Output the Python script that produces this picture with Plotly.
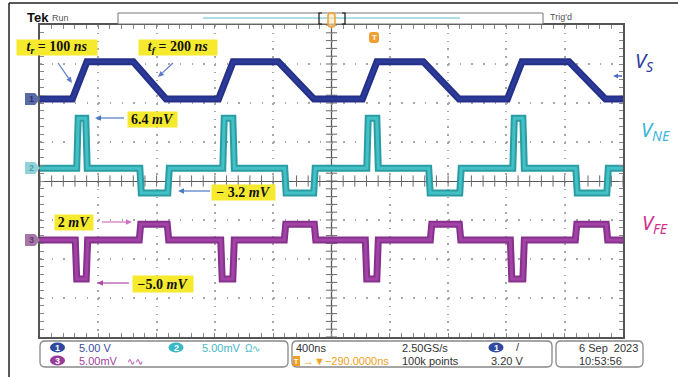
import numpy as np
import plotly.graph_objects as go

# ---------------- data (read from the scope screen) ----------------
# time in ns (400 ns/div, 10 div), channel values in V or mV
vs_t = [0, 222, 322, 640, 865, 1225, 1325, 1635, 1880, 2212, 2312, 2630, 2875,
        3207, 3307, 3630, 3880, 4000]
vs_v = [0, 0, 4.8, 4.8, 0, 0, 4.8, 4.8, 0, 0, 4.8, 4.8, 0, 0, 4.8, 4.8, 0, 0]

ne_t = [0, 252, 262, 314, 324, 685, 695, 877, 887,
        1254, 1264, 1323, 1333, 1679, 1689, 1878, 1888,
        2242, 2252, 2311, 2321, 2667, 2677, 2880, 2890,
        3244, 3254, 3313, 3323, 3676, 3686, 3889, 3899, 4000]
ne_v = [0, 0, 6.4, 6.4, 0, 0, -3.2, -3.2, 0,
        0, 6.4, 6.4, 0, 0, -3.2, -3.2, 0,
        0, 6.4, 6.4, 0, 0, -3.2, -3.2, 0,
        0, 6.4, 6.4, 0, 0, -3.2, -3.2, 0, 0]

fe_t = [0, 242, 252, 317, 327, 681, 691, 873, 883,
        1240, 1250, 1323, 1333, 1676, 1686, 1882, 1892,
        2232, 2242, 2311, 2321, 2678, 2688, 2877, 2887,
        3227, 3237, 3313, 3323, 3673, 3683, 3885, 3895, 4000]
fe_v = [0, 0, -5.0, -5.0, 0, 0, 2.0, 2.0, 0,
        0, -5.0, -5.0, 0, 0, 2.0, 2.0, 0,
        0, -5.0, -5.0, 0, 0, 2.0, 2.0, 0,
        0, -5.0, -5.0, 0, 0, 2.0, 2.0, 0, 0]

# scope settings
time_per_div = 400      # ns/div
ch_scale = [5.0, 5.0, 5.0]          # V/div, mV/div, mV/div
ch_offset = [2.10, 0.33, -1.51]     # ground position in divisions

W, H = 678, 377
def px(x): return x / W
def py(y): return 1 - y / H

fig = go.Figure()

# centre cross-hair tick marks
cx = np.arange(0, 4001, 80)
cy = np.arange(-4, 4.001, 0.2)
fig.add_trace(go.Scatter(x=cx, y=np.zeros_like(cx), mode="markers",
                         marker=dict(symbol="line-ns", size=8, line=dict(width=1, color="#6a6a6a")),
                         hoverinfo="skip", showlegend=False))
fig.add_trace(go.Scatter(x=np.full_like(cy, 2000), y=cy, mode="markers",
                         marker=dict(symbol="line-ew", size=8, line=dict(width=1, color="#6a6a6a")),
                         hoverinfo="skip", showlegend=False))

def band(t, v, scale, off, outer, inner):
    y = off + np.array(v) / scale
    fig.add_trace(go.Scatter(x=t, y=y, mode="lines", line=dict(color=outer, width=7),
                             hoverinfo="skip", showlegend=False))
    fig.add_trace(go.Scatter(x=t, y=y, mode="lines", line=dict(color=inner, width=3),
                             hoverinfo="skip", showlegend=False))

band(vs_t, vs_v, ch_scale[0], ch_offset[0], "#243089", "#2c3a98")
band(ne_t, ne_v, ch_scale[1], ch_offset[1], "#2a9ca2", "#42c2c7")
band(fe_t, fe_v, ch_scale[2], ch_offset[2], "#87308d", "#a244a6")

shapes = []
ann = []

# centre vertical line
shapes.append(dict(type="line", xref="x", yref="y", x0=2000, x1=2000, y0=-4, y1=4,
                   line=dict(color="#5a5a5a", width=1.3), layer="below"))

# outer frame
shapes.append(dict(type="line", xref="paper", yref="paper", x0=px(9), x1=px(678), y0=py(3), y1=py(3),
                   line=dict(color="#222", width=1.5)))
shapes.append(dict(type="line", xref="paper", yref="paper", x0=px(9), x1=px(9), y0=py(3), y1=py(377),
                   line=dict(color="#222", width=1.5)))

def path_px(pts, close=True):
    s = "M " + " L ".join(f"{px(x):.5f},{py(y):.5f}" for x, y in pts)
    return s + (" Z" if close else "")

def rrect(x0, y0, x1, y1, r):
    P = lambda x, y: f"{px(x):.5f},{py(y):.5f}"
    return (f"M {P(x0+r,y0)} L {P(x1-r,y0)} Q {P(x1,y0)} {P(x1,y0+r)} L {P(x1,y1-r)} "
            f"Q {P(x1,y1)} {P(x1-r,y1)} L {P(x0+r,y1)} Q {P(x0,y1)} {P(x0,y1-r)} "
            f"L {P(x0,y0+r)} Q {P(x0,y0)} {P(x0+r,y0)} Z")

def text(x, y, s, size=11, color="#333", family="Liberation Sans", xanchor="center", bold=False):
    if bold:
        s = f"<b>{s}</b>"
    ann.append(dict(x=px(x), y=py(y), xref="paper", yref="paper", text=s, showarrow=False,
                    xanchor=xanchor, yanchor="middle", font=dict(size=size, color=color, family=family)))

def arrow(tx, ty, hx, hy, color, width=1.2, head=6):
    d = np.hypot(hx - tx, hy - ty)
    ux, uy = (hx - tx) / d, (hy - ty) / d
    bx, by = hx - ux * head, hy - uy * head
    nx, ny = -uy, ux
    shapes.append(dict(type="line", xref="paper", yref="paper", x0=px(tx), y0=py(ty),
                       x1=px(bx), y1=py(by), line=dict(color=color, width=width)))
    shapes.append(dict(type="path", xref="paper", yref="paper",
                       path=path_px([(hx, hy), (bx + nx * head * 0.45, by + ny * head * 0.45),
                                     (bx - nx * head * 0.45, by - ny * head * 0.45)]),
                       fillcolor=color, line=dict(width=0)))

# ground markers
for yc, col, lab, tc in [(99, "#5a6aa6", "1", "#2a3570"), (168, "#8fd3da", "2", "#5a9aa0"),
                         (240, "#a676a8", "3", "#6a3a6a")]:
    shapes.append(dict(type="path", xref="paper", yref="paper",
                       path=path_px([(25, yc-6), (35, yc-6), (40, yc), (35, yc+6), (25, yc+6)]),
                       fillcolor=col, line=dict(width=0)))
    text(31, yc, lab, size=9, color=tc, bold=True)

# top bar
text(25, 18, "Tek", size=13, color="#111", xanchor="left", bold=True)
text(50, 18, "Run", size=9, color="#555", xanchor="left")
shapes.append(dict(type="rect", xref="paper", yref="paper", x0=px(118), x1=px(543), y0=py(13), y1=py(24),
                   line=dict(color="#777", width=1), fillcolor="white"))
shapes.append(dict(type="line", xref="paper", yref="paper", x0=px(203), x1=px(460), y0=py(18), y1=py(18),
                   line=dict(color="#8fd5dc", width=1.5)))
shapes.append(dict(type="path", xref="paper", yref="paper",
                   path=path_px([(322, 13), (319, 13), (319, 24), (322, 24)], close=False),
                   line=dict(color="#111", width=1.2)))
shapes.append(dict(type="path", xref="paper", yref="paper",
                   path=path_px([(342, 13), (345, 13), (345, 24), (342, 24)], close=False),
                   line=dict(color="#111", width=1.2)))
shapes.append(dict(type="path", xref="paper", yref="paper", path=rrect(328, 13, 335, 27, 3),
                   line=dict(color="#f0a030", width=1.5), fillcolor="rgba(255,230,180,0.6)"))
text(548, 17, "Trig'd", size=9, color="#555", xanchor="left")

# trigger position marker
shapes.append(dict(type="path", xref="paper", yref="paper", path=rrect(369, 32, 379, 43, 3),
                   line=dict(width=0), fillcolor="#f0a030"))
text(374, 37.5, "T", size=8, color="white", bold=True)
# trigger level arrow
arrow(622, 76, 613, 76, "#4a66c4", 1.5, 5)

# yellow annotation boxes
def ybox(cx, cy, w, h, s):
    ann.append(dict(x=px(cx), y=py(cy), xref="paper", yref="paper", text=f"<b>{s}</b>", showarrow=False,
                    bgcolor="#f6ea2e", width=w, height=h, borderpad=0, xanchor="center", yanchor="middle",
                    font=dict(size=14, color="#111", family="Liberation Serif")))

ybox(57, 47.5, 80, 15, "<i>t</i><sub><i>r</i></sub> = 100 <i>ns</i>")
ybox(178, 47.5, 78, 15, "<i>t</i><sub><i>f</i></sub> = 200 <i>ns</i>")
ybox(152.5, 119.5, 49, 15, "6.4 <i>mV</i>")
ybox(243.5, 192.5, 63, 15, "− 3.2 <i>mV</i>")
ybox(74, 222.5, 38, 15, "2 <i>mV</i>")
ybox(163, 283.5, 60, 16, "−5.0 <i>mV</i>")

arrow(58, 63, 72, 83, "#5d7cc8")
arrow(173, 63, 158, 77, "#5d7cc8")
arrow(124, 118, 95, 118, "#4a7ac4")
arrow(210, 191, 178, 191, "#4a7ac4")
arrow(102, 222, 132, 222, "#d070c0")
arrow(129, 283, 97, 283, "#b04aa8")

# right-side labels
text(644, 62, "<i>V</i><sub><i>S</i></sub>", size=20, color="#2e3d9c", family="Noto Sans")
text(655, 130, "<i>V</i><sub><i>NE</i></sub>", size=20, color="#3cb4dc", family="Noto Sans")
text(655, 223, "<i>V</i><sub><i>FE</i></sub>", size=20, color="#d0308c", family="Noto Sans")

# bottom info panels
for x0, x1 in [(40, 288), (292, 552), (556, 643)]:
    shapes.append(dict(type="path", xref="paper", yref="paper", path=rrect(x0, 341, x1, 367, 5),
                       line=dict(color="#888", width=1.3)))

def chip(cx, cy, lab, col):
    shapes.append(dict(type="circle", xref="paper", yref="paper", x0=px(cx-7.5), x1=px(cx+7.5),
                       y0=py(cy+5), y1=py(cy-5), fillcolor=col, line=dict(width=0)))
    text(cx, cy, lab, size=9, color="white", bold=True)

chip(57.5, 347.5, "1", "#2f4a9e")
text(77, 348, "5.00 V", size=11, color="#3a4aa0", xanchor="left")
chip(176, 347.5, "2", "#3ab8c8")
text(200, 348, "5.00mV", size=11, color="#45b8c8", xanchor="left")
text(243, 348, "Ω∿", size=10, color="#45b8c8", xanchor="left")
chip(57.5, 360.5, "3", "#9a3a9a")
text(77, 361, "5.00mV", size=11, color="#a040a0", xanchor="left")
text(125, 361, "∿∿", size=10, color="#a040a0", xanchor="left")

text(294, 348, "400ns", size=11, color="#333", xanchor="left")
shapes.append(dict(type="rect", xref="paper", yref="paper", x0=px(293), x1=px(300), y0=py(366), y1=py(356),
                   fillcolor="#f0a020", line=dict(width=0)))
text(296.5, 361, "T", size=7, color="white", bold=True)
text(301, 361, "→▼−290.0000ns", size=11, color="#f0a020", xanchor="left")
text(400, 348, "2.50GS/s", size=11, color="#333", xanchor="left")
text(400, 361, "100k points", size=11, color="#333", xanchor="left")
chip(496, 347.5, "1", "#2f4a9e")
text(518, 347, "/", size=11, color="#333")
text(507, 361, "3.20 V", size=11, color="#333")
text(640, 348, "6 Sep  2023", size=11, color="#333", xanchor="right")
text(600, 361, "10:53:56", size=11, color="#333")

fig.update_layout(
    width=W, height=H, margin=dict(l=0, r=0, t=0, b=0),
    paper_bgcolor="white", plot_bgcolor="white",
    showlegend=False, shapes=shapes, annotations=ann,
    xaxis=dict(domain=[px(40), px(623)], range=[0, 10 * time_per_div], dtick=time_per_div, tick0=0,
               showgrid=True, gridcolor="#a8a8a8", gridwidth=1.5, griddash="1.5px,6.3px",
               showline=True, linecolor="#555", linewidth=1.5, mirror="ticks",
               ticks="inside", ticklen=4, tickcolor="#888", showticklabels=False, zeroline=False,
               minor=dict(dtick=80, ticks="inside", ticklen=4, tickcolor="#888", showgrid=False),
               fixedrange=True),
    yaxis=dict(domain=[py(337), py(25)], range=[-4, 4], dtick=1, tick0=0,
               showgrid=True, gridcolor="#a8a8a8", gridwidth=1.5, griddash="1.5px,10.16px",
               showline=True, linecolor="#555", linewidth=1.5, mirror="ticks",
               ticks="inside", ticklen=4, tickcolor="#888", showticklabels=False,
               zeroline=True, zerolinecolor="#5a5a5a", zerolinewidth=1.3,
               minor=dict(dtick=0.2, ticks="inside", ticklen=4, tickcolor="#888", showgrid=False),
               fixedrange=True),
)

fig.write_html("out.html", config={"displayModeBar": False},
               post_script="document.body.style.margin='0';document.body.style.overflow='hidden';")
